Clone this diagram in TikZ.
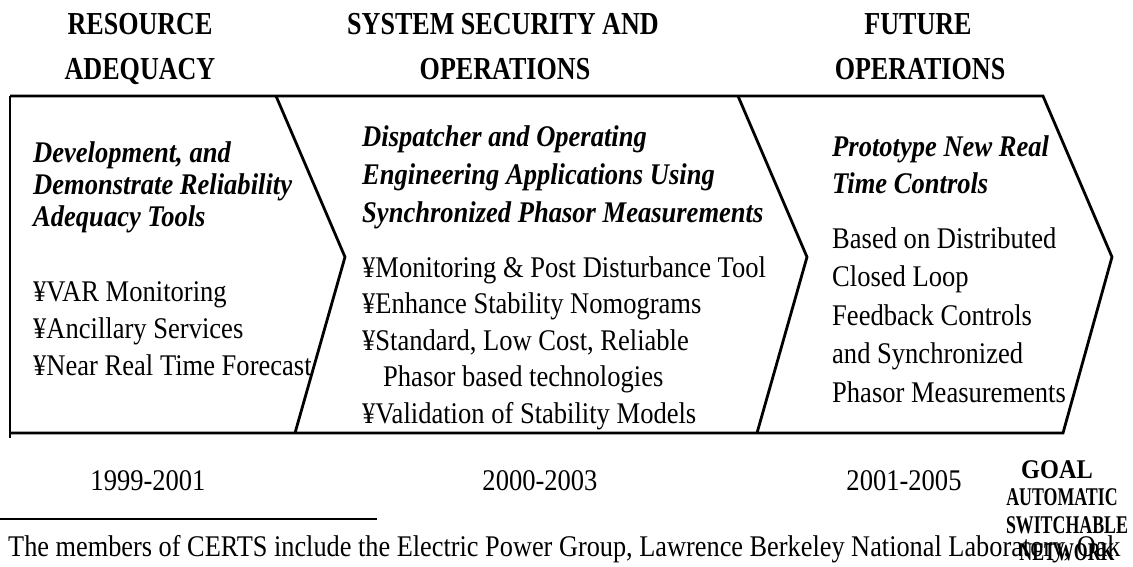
\documentclass[tikz,border=0pt]{standalone}
\usepackage{fontspec}
\setmainfont{Liberation Serif}
\newfontfamily\bodyf{Liberation Serif}[FakeStretch=0.885]
\newfontfamily\footf{Liberation Serif}[FakeStretch=0.877]
\newfontfamily\headf{Liberation Serif}[FakeStretch=0.815]
\newfontfamily\goalf{Liberation Serif}[FakeStretch=0.70]
\newfontfamily\goalg{Liberation Serif}[FakeStretch=0.90]
\begin{document}
\begin{tikzpicture}[x=1pt,y=-1pt,
  hdr/.style={anchor=base, inner sep=0pt, font=\headf\bfseries\fontsize{32}{38}\selectfont},
  blk/.style={anchor=base west, inner sep=0pt},
  datelbl/.style={anchor=base, inner sep=0pt, font=\bodyf\fontsize{30}{36}\selectfont},
  goalsm/.style={anchor=base, inner sep=0pt, font=\goalf\bfseries\fontsize{25.5}{30}\selectfont},
  outline/.style={line width=2.8pt, line join=miter, line cap=butt},
  thinedge/.style={line width=1.8pt}]
\useasboundingbox (0,0) rectangle (1133,567);
% chevron geometry
\coordinate (tl) at (10,96);
\coordinate (bl) at (10,433);
\coordinate (blx) at (10,438);
\coordinate (s1t) at (276,96);
\coordinate (s1m) at (345,257);
\coordinate (s1b) at (295,433);
\coordinate (s2t) at (738,96);
\coordinate (s2m) at (807,257);
\coordinate (s2b) at (757,433);
\coordinate (s3t) at (1043,96);
\coordinate (s3m) at (1112,257);
\coordinate (s3b) at (1063,433);
\draw[outline] (tl) -- (s3t) -- (s3m) -- (s3b) -- (bl);
\draw[thinedge] (tl) -- (blx);
\draw[outline] (s1t) -- (s1m) -- (s1b);
\draw[outline] (s2t) -- (s2m) -- (s2b);
% headers
\node[hdr] (h1a) at (140,35) {RESOURCE};
\node[hdr] (h1b) at (140,80) {ADEQUACY};
\node[hdr] (h2a) at (503,35) {SYSTEM SECURITY AND};
\node[hdr] (h2b) at (505,80) {OPERATIONS};
\node[hdr] (h3a) at (918,35) {FUTURE};
\node[hdr] (h3b) at (920,80) {OPERATIONS};
% chevron 1
\node[blk] (c1t) at (33,163) {\parbox[t]{320pt}{\raggedright\bodyf\bfseries\itshape\fontsize{30}{32}\selectfont
  Development, and\\Demonstrate Reliability\\Adequacy Tools}};
\node[blk] (c1b) at (33,301) {\parbox[t]{320pt}{\raggedright\bodyf\fontsize{30}{37}\selectfont
  ¥VAR Monitoring\\¥Ancillary Services\\¥Near Real Time Forecast}};
% chevron 2
\node[blk] (c2t) at (362,147) {\parbox[t]{460pt}{\raggedright\bodyf\bfseries\itshape\fontsize{30}{38}\selectfont
  Dispatcher and Operating\\Engineering Applications Using\\Synchronized Phasor Measurements}};
\node[blk] (c2b) at (362,277) {\parbox[t]{460pt}{\raggedright\bodyf\fontsize{30}{36.5}\selectfont
  ¥Monitoring \& Post Disturbance Tool\\¥Enhance Stability Nomograms\\¥Standard, Low Cost, Reliable\\\hspace*{21pt}Phasor based technologies\\¥Validation of Stability Models}};
% chevron 3
\node[blk] (c3t) at (832,157) {\parbox[t]{300pt}{\raggedright\bodyf\bfseries\itshape\fontsize{30}{37}\selectfont
  Prototype New Real\\Time Controls}};
\node[blk] (c3b) at (832,248) {\parbox[t]{300pt}{\raggedright\bodyf\fontsize{30}{38.5}\selectfont
  Based on Distributed\\Closed Loop\\Feedback Controls\\and Synchronized\\Phasor Measurements}};
% dates
\node[datelbl] (d1) at (148,490) {1999-2001};
\node[datelbl] (d2) at (540,490) {2000-2003};
\node[datelbl] (d3) at (904,490) {2001-2005};
% footnote
\coordinate (r0) at (0,519);
\coordinate (r1) at (377,519);
\draw[line width=2.6pt] (r0) -- (r1);
\node[blk, font=\footf\fontsize{30}{36}\selectfont] (fn) at (8,556)
  {The members of CERTS include the Electric Power Group, Lawrence Berkeley National Laboratory, Oak};
% goal
\node[anchor=base, inner sep=0pt, font=\goalg\bfseries\fontsize{27}{30}\selectfont] (g1) at (1057,478) {GOAL};
\node[goalsm] (g2) at (1062,505) {AUTOMATIC};
\node[goalsm] (g3) at (1067,533) {SWITCHABLE};
\node[goalsm] (g4) at (1067,560) {NETWORK};
\end{tikzpicture}
\end{document}
